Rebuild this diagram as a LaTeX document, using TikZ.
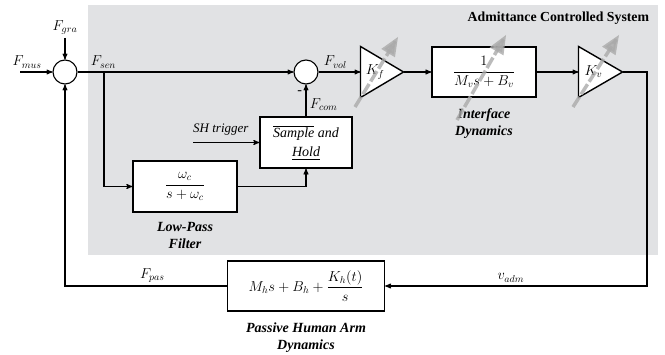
\documentclass[tikz,border=0pt]{standalone}
\usepackage{amsmath}
\usepackage{fontspec}
\setmainfont{Liberation Serif}
\usetikzlibrary{positioning, arrows}
\usepackage{color}

\definecolor{panelgray}{RGB}{225,226,228}
\definecolor{gaingray}{RGB}{170,170,170}

\begin{document}
\begin{tikzpicture}[x=1pt, y=-1pt, ->, >=stealth', line width=1.1pt, on grid,
        font=\fontsize{14}{17}\selectfont,
        sum/.style={draw, circle, fill=white, minimum size=24pt, inner sep=0pt},
        block/.style={draw, fill=white, line width=1.4pt, minimum height=50pt, inner sep=2pt},
        gain/.style={minimum width=42pt, minimum height=50pt, inner sep=0pt},
        caption/.style={align=center, anchor=north, inner sep=2pt, font=\fontsize{14}{17}\selectfont\bfseries\itshape},
        varg/.style={-triangle 45, gaingray, line width=3.5pt, opacity=0.8, dash pattern=on 12pt off 3pt}]

    \useasboundingbox (0,0) rectangle (665,355);
    \fill[panelgray] (88,5) rectangle (658,255);
    \node[font=\fontsize{13.8}{16}\selectfont\bfseries, anchor=east] (acs) at (653,18) {Admittance Controlled System};

    % blocks
    \node[sum] (s1) at (65,72) {};
    \node[sum] (s2) [right=241pt of s1] {};
    \node[gain] (kf) [right=76pt of s2] {};
    \node[block, minimum width=104pt] (ifd) [right=102pt of kf] {$\dfrac{1}{M_v s + B_v}$};
    \node[gain, minimum width=43pt] (kv) [right=116.5pt of ifd] {};
    \node[block, minimum width=92pt, minimum height=51pt, align=center, font=\fontsize{14}{19}\selectfont\itshape] (sh) [below=70.5pt of s2] {$\overline{\mbox{Sample}}$ and\\\underline{Hold}};
    \node[block, minimum width=104pt, minimum height=51pt] (lpf) [below left=44pt and 121pt of sh] {$\dfrac{\omega_c}{s + \omega_c}$};
    \node[block, minimum width=157pt] (pha) [below=214pt of s2] {$M_h s + B_h + \dfrac{K_h(t)}{s}$};

    \draw[-, fill=white, line width=1.4pt] (kf.north west) -- (kf.east) -- (kf.south west) -- cycle;
    \draw[-, fill=white, line width=1.4pt] (kv.north west) -- (kv.east) -- (kv.south west) -- cycle;
    \node (kflab) at ([xshift=-7pt]kf.center) {$K_f$};
    \node (kvlab) at ([xshift=-7pt]kv.center) {$K_v$};

    \node[caption] (lpfcap) at ([yshift=-7pt]lpf.south) {Low-Pass\\Filter};
    \node[caption] (ifdcap) at ([yshift=-8pt]ifd.south) {Interface\\Dynamics};
    \node[caption] (phacap) at ([yshift=-9pt]pha.south) {Passive Human Arm\\Dynamics};

    \coordinate (mus) at (20,72);
    \coordinate (gra) at (65,38);
    \coordinate (br) at (104,72);
    \coordinate (trig) at (193,142.5);
    \coordinate (crn) at (647,72);

    % signals
    \draw (mus) -- node[above, pos=0.22] {$F_{mus}$} (s1);
    \draw (gra) node[above] {$F_{gra}$} -- (s1);
    \draw (s1) -- node[above, pos=0.12] {$F_{sen}$} (s2);
    \draw (br) |- (lpf);
    \draw (lpf) -| (sh);
    \draw (trig) -- node[above, pos=0.42, yshift=3pt, font=\fontsize{13}{15}\selectfont\itshape] {SH trigger} (sh);
    \draw (sh) -- node[right, pos=0.36] {$F_{com}$} node[left, pos=0.75] {-} (s2);
    \draw (s2) -- node[above, pos=0.4] {$F_{vol}$} (kf);
    \draw (kf) -- (ifd);
    \draw (ifd) -- (kv);
    \draw (kv) -- (crn) |- node[above, pos=0.76] {$v_{adm}$} (pha);
    \draw (pha) -| node[above, pos=0.23] {$F_{pas}$} (s1);

    % variable gains
    \draw[varg] ([shift={(-27,35)}]kf.center) -- ([shift={(16,-35)}]kf.center);
    \draw[varg] ([shift={(-27,48)}]ifd.center) -- ([shift={(22,-37)}]ifd.center);
    \draw[varg] ([shift={(-27.5,35)}]kv.center) -- ([shift={(18.5,-37)}]kv.center);
\end{tikzpicture}
\end{document}
